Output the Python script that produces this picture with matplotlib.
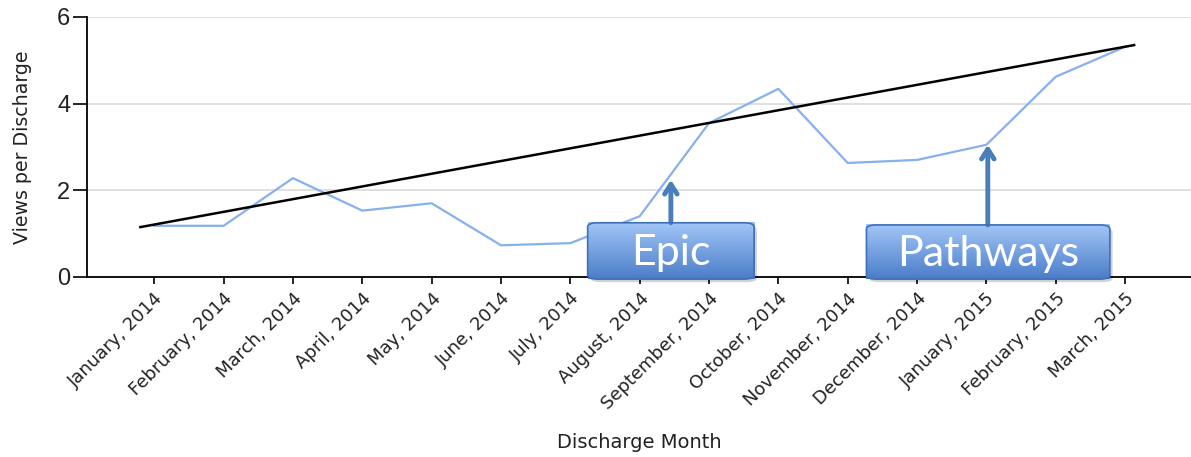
import numpy as np
import matplotlib.pyplot as plt
from matplotlib.patches import FancyBboxPatch
import matplotlib.colors as mcolors

# Data
months = ['January, 2014', 'February, 2014', 'March, 2014', 'April, 2014',
          'May, 2014', 'June, 2014', 'July, 2014', 'August, 2014',
          'September, 2014', 'October, 2014', 'November, 2014',
          'December, 2014', 'January, 2015', 'February, 2015', 'March, 2015']
views = [1.18, 1.18, 2.28, 1.53, 1.70, 0.73, 0.78, 1.40,
         3.55, 4.34, 2.63, 2.70, 3.05, 4.62, 5.31]

# trend line ends (x in month index units, y in views)
trend_x = [0.80, 15.13]
trend_y = [1.15, 5.35]

# callouts: label, arrow x, arrow tip y, box x0, box x1, box y1
callout_labels = ['Epic', 'Pathways']
callout_x = [8.45, 13.02]
callout_tip = [2.24, 3.05]
box_x0 = [7.25, 11.27]
box_x1 = [9.65, 14.78]
box_top = [1.25, 1.20]

x = np.arange(1, len(months) + 1)

fig = plt.figure(figsize=(11.91, 4.57), dpi=100)
ax = fig.add_axes([0.073, 0.394, 0.927, 0.569])

ax.plot(x, views, color='#86B1EC', lw=1.6, zorder=3)
ax.plot(trend_x, trend_y, color='black', lw=1.8, zorder=4)

ax.set_xlim(0.03, 15.95)
ax.set_ylim(0, 6)
ax.set_yticks([0, 2, 4, 6])
ax.yaxis.grid(True, color='#DADADA', lw=1.2)
ax.set_axisbelow(True)
ax.spines['top'].set_visible(False)
ax.spines['right'].set_visible(False)
ax.spines['left'].set_linewidth(1.3)
ax.spines['bottom'].set_linewidth(1.3)

ax.set_xticks(x)
ax.set_xticklabels(months, rotation=45, ha='right', va='top',
                   rotation_mode='anchor', fontsize=13, color='#222222',
                   family='DejaVu Sans')
ax.tick_params(axis='x', length=5, width=1.2, pad=4)
ax.tick_params(axis='y', length=10, width=1.2, labelsize=17, pad=2,
               labelcolor='#222222')
for t in ax.get_yticklabels():
    t.set_family('Liberation Sans')

ax.set_ylabel('Views per Discharge', fontsize=13.7, color='#222222', labelpad=18)
ax.set_xlabel('Discharge Month', fontsize=14, color='#222222', labelpad=14)

# gradient for the callout boxes
grad = mcolors.LinearSegmentedColormap.from_list('box', ['#4A7DC9', '#A3C6F7'])
gimg = np.linspace(0, 1, 256).reshape(-1, 1)

for lab, ax_x, tip, x0, x1, y1 in zip(callout_labels, callout_x, callout_tip,
                                      box_x0, box_x1, box_top):
    y0 = -0.05
    # shadow
    shadow = FancyBboxPatch((x0 + 0.04, y0 - 0.07), x1 - x0, y1 - y0,
                            boxstyle='round,pad=0,rounding_size=0.15',
                            mutation_aspect=1 / 1.6,
                            fc='#000000', ec='none', alpha=0.18,
                            clip_on=False, zorder=5)
    ax.add_patch(shadow)
    box = FancyBboxPatch((x0, y0), x1 - x0, y1 - y0,
                         boxstyle='round,pad=0,rounding_size=0.15',
                         mutation_aspect=1 / 1.6,
                         fc='none', ec='#3F6FB5', lw=1.2,
                         clip_on=False, zorder=7)
    ax.add_patch(box)
    im = ax.imshow(gimg, cmap=grad, extent=[x0, x1, y0, y1], aspect='auto',
                   origin='lower', zorder=6, clip_on=False)
    im.set_clip_path(box)
    ax.text((x0 + x1) / 2, (y0 + y1) / 2 - 0.05, lab, color='white',
            fontsize=31, family='Lato', ha='center', va='center', zorder=8)
    ax.annotate('', xy=(ax_x, tip), xytext=(ax_x, y1),
                arrowprops=dict(arrowstyle='->,head_length=0.7,head_width=0.45',
                                color='#4A7EBB', lw=3.5, shrinkA=0, shrinkB=0),
                zorder=6)

ax.set_xlim(0.03, 15.95)
ax.set_ylim(0, 6)

fig.savefig('out.png', dpi=100)
